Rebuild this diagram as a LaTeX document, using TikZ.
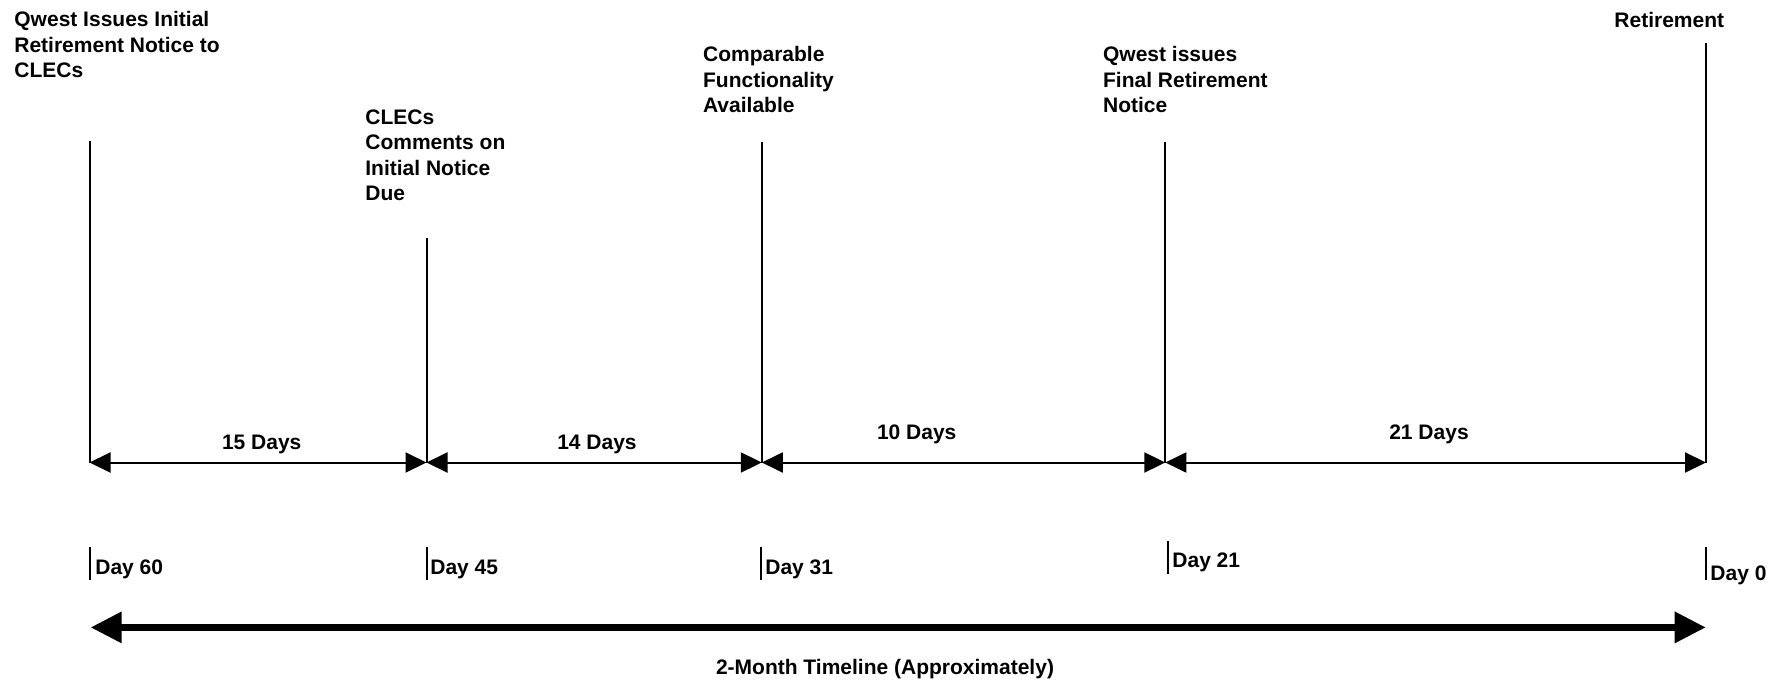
\documentclass[tikz,border=0pt]{standalone}
\usepackage{fontspec}
\setmainfont{Liberation Sans}
\usetikzlibrary{arrows.meta}

\tikzset{
  event text/.style={anchor=base west, inner sep=0pt, align=left,
    font=\bfseries\fontsize{10.5}{12.75}\selectfont},
  span text/.style={anchor=base, inner sep=0pt,
    font=\bfseries\fontsize{10.5}{12.75}\selectfont},
  day text/.style={anchor=base west, inner sep=0pt,
    font=\bfseries\fontsize{10.5}{12.75}\selectfont},
  mark line/.style={line width=1pt},
  span arrow/.style={line width=1pt,
    {Triangle[length=10.5pt,width=10pt]}-{Triangle[length=10.5pt,width=10pt]}},
  month arrow/.style={line width=3.2pt,
    {Triangle[length=15.5pt,width=15pt]}-{Triangle[length=15.5pt,width=15pt]}},
}

\begin{document}
\begin{tikzpicture}[x=0.5pt,y=-0.5pt]
            \useasboundingbox (0,0) rectangle (1777,680);

            % Event texts (placed at the baseline of their last line)
            \node[event text] (ev60) at (14,77.5) {Qwest Issues Initial\\Retirement Notice to\\CLECs};
            \node[event text] (ev45) at (365,200.5) {CLECs\\Comments on\\Initial Notice\\Due};
            \node[event text] (ev31) at (702.7,112.5) {Comparable\\Functionality\\Available};
            \node[event text] (ev21) at (1102.7,112.5) {Qwest issues\\Final Retirement\\Notice};
            \node[event text] (ev0) at (1614,27.5) {Retirement};

            % Marking the event lines
            \coordinate (t60) at (89.5,141);   \coordinate (b60) at (89.5,462.5);
            \coordinate (t45) at (426.5,237.5); \coordinate (b45) at (426.5,462.5);
            \coordinate (t31) at (761.8,142);  \coordinate (b31) at (761.8,462.5);
            \coordinate (t21) at (1165.3,142); \coordinate (b21) at (1165.3,462.5);
            \coordinate (t0) at (1706,43);     \coordinate (b0) at (1706,462.5);
            \foreach \d in {60,45,31,21,0}
              \draw[mark line] (t\d) -- (b\d);

            % Drawing the spans
            \draw[span arrow] (b60) -- (b45);
            \draw[span arrow] (b45) -- (b31);
            \draw[span arrow] (b31) -- (b21);
            \draw[span arrow] (b21) -- (b0);
            \node[span text] (sp15) at (261.7,449.2) {15 Days};
            \node[span text] (sp14) at (597,449) {14 Days};
            \node[span text] (sp10) at (916.7,439.8) {10 Days};
            \node[span text] (sp21) at (1429,439.5) {21 Days};

            % Marking the days
            \draw[mark line] (90,547) -- (90,580);
            \node[day text] (d60) at (95,574.2) {Day 60};
            \draw[mark line] (426.7,547) -- (426.7,580);
            \node[day text] (d45) at (430,574.2) {Day 45};
            \draw[mark line] (761,547) -- (761,580);
            \node[day text] (d31) at (765,574.2) {Day 31};
            \draw[mark line] (1168,541) -- (1168,573.5);
            \node[day text] (d21) at (1172,567) {Day 21};
            \draw[mark line] (1706,547) -- (1706,580);
            \node[day text] (d0) at (1710,580.8) {Day 0};

            % Drawing the timeline
            \coordinate (m0) at (90.7,627.4);
            \coordinate (m1) at (1705.7,627.4);
            \draw[month arrow] (m0) -- (m1);
            \node[span text] (month) at (885,674.5) {2-Month Timeline (Approximately)};
\end{tikzpicture}
\end{document}
